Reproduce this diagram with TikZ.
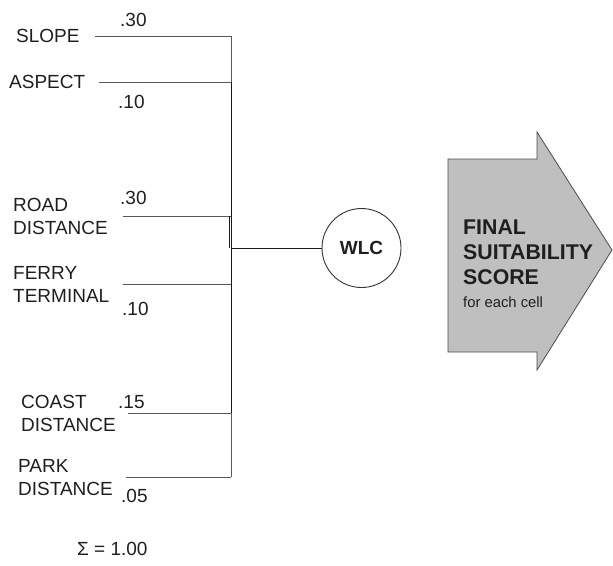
\documentclass[tikz,border=0pt]{standalone}
\usepackage{fontspec}
\setmainfont{Liberation Sans}
\begin{document}
\begin{tikzpicture}[x=1pt,y=-1pt,
  lbl/.style={anchor=west,inner sep=0pt,align=left,font=\fontsize{19}{23}\selectfont,text=black!88},
  wt/.style={anchor=base west,inner sep=0pt,font=\fontsize{19}{23}\selectfont,text=black!88},
  feed/.style={draw=black!65,line width=0.9pt},
  trunk/.style={draw=black!90,line width=1pt}]
\useasboundingbox (0,0) rectangle (613,565);

% factor labels
\node[lbl] (slope)  at (16,36)    {SLOPE};
\node[lbl] (aspect) at (9,82)     {ASPECT};
\node[lbl] (road)   at (13,216.5) {ROAD\\DISTANCE};
\node[lbl] (ferry)  at (13,284)   {FERRY\\TERMINAL};
\node[lbl] (coast)  at (21,413.5) {COAST\\DISTANCE};
\node[lbl] (park)   at (18,477.5) {PARK\\DISTANCE};

% weights
\node[wt] (wslope)  at (120,26)  {.30};
\node[wt] (waspect) at (118,108) {.10};
\node[wt] (wroad)   at (120,204) {.30};
\node[wt] (wferry)  at (122,315) {.10};
\node[wt] (wcoast)  at (118,408) {.15};
\node[wt] (wpark)   at (121,502) {.05};
\node[wt] (wsum)    at (77,555)  {Σ = 1.00};

% line ends and junctions
\coordinate (s0) at (95,36);   \coordinate (s1) at (231,36);
\coordinate (a0) at (99,82);   \coordinate (a1) at (231,82);
\coordinate (r0) at (123,216); \coordinate (r1) at (231,216);
\coordinate (f0) at (123,284); \coordinate (f1) at (231,284);
\coordinate (c0) at (128,413); \coordinate (c1) at (231,413);
\coordinate (p0) at (126,477); \coordinate (p1) at (231,477);
\coordinate (hub) at (231,248);

% weighted overlay node
\node[circle,draw=black!80,line width=0.9pt,minimum size=79pt,inner sep=0pt,
      font=\fontsize{19}{23}\selectfont\bfseries,text=black!88] (wlc) at (361.5,248) {WLC};

% feeder lines into the tree
\draw[feed] (s0) -- (s1) -- (a1);
\draw[feed] (a0) -- (a1);
\draw[feed] (r0) -- (r1);
\draw[feed] (f0) -- (f1);
\draw[feed] (c0) -- (c1) -- (p1);
\draw[feed] (p0) -- (p1);
\draw[trunk] (a1) -- (c1);
\draw[trunk] (229.5,216) -- (229.5,248);
\draw[trunk] (hub) -- (wlc);

% result arrow
\filldraw[fill=black!25,draw=black!70,line width=0.8pt]
  (448,159) -- (537,159) -- (537,132) -- (612,250) -- (537,370) -- (537,352) -- (448,352) -- cycle;
\node[anchor=north west,inner sep=0pt,align=left,text=black!88,
      font=\fontsize{21.3}{25}\selectfont\bfseries] (final) at (463,220)
      {FINAL\\SUITABILITY\\SCORE};
\node[anchor=north west,inner sep=0pt,text=black!88,font=\fontsize{14.8}{17}\selectfont] (cell)
      at (463,297) {for each cell};
\end{tikzpicture}
\end{document}
